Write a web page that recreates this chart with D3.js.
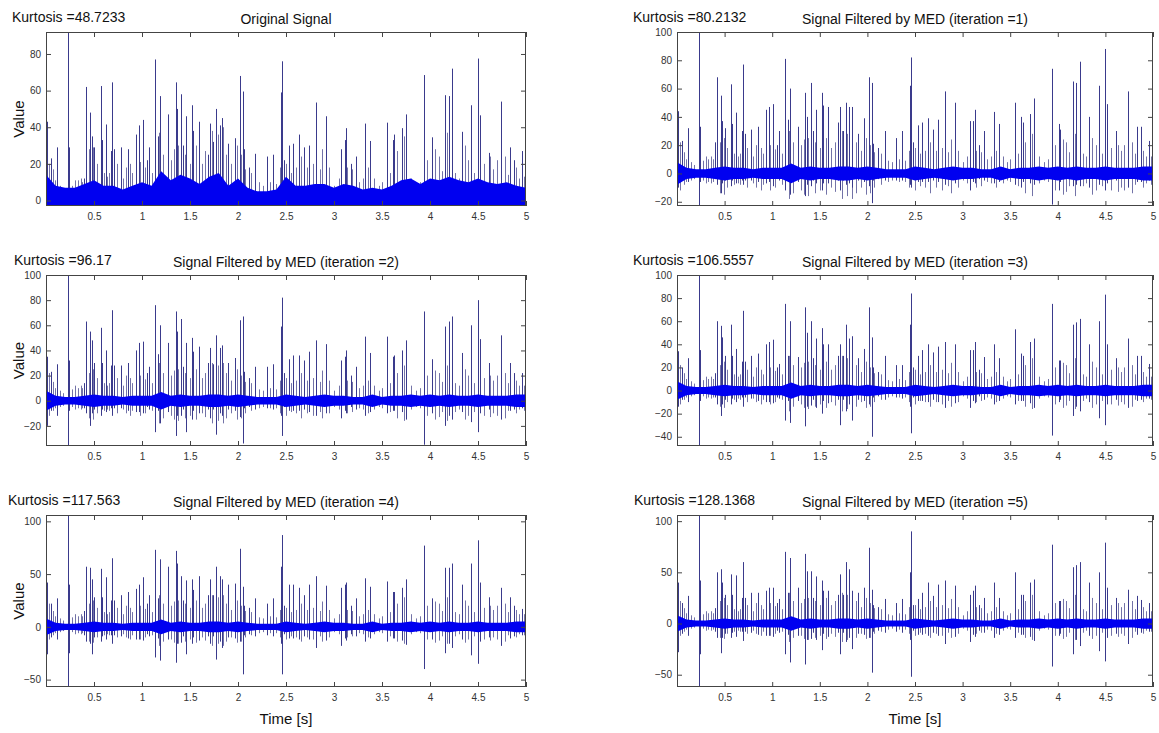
<!DOCTYPE html>
<html lang="en">
<head>
<meta charset="UTF-8">
<script src="https://cdn.jsdelivr.net/npm/d3@7"></script>
<title>MED filtering - kurtosis</title>
<style>
    body { margin: 0; background: #fff; }
    svg { display: block; font-family: "Liberation Sans", Arial, Helvetica, sans-serif; }
    .tick text { font-size: 10px; fill: #333; }
    .tick line { stroke: #444; }
    .label { font-size: 15px; fill: #111; }
    .title { font-size: 14px; fill: #111; }
</style>
</head>
<body>
<script>

    /*-------------------------------------------------------*/
    /*------------------------ data -------------------------*/
    /*-------------------------------------------------------*/
    // impulse times [s], shared by every panel
    const spikeTimes = [
        0.01, 0.05, 0.115, 0.23, 0.24, 0.40, 0.42, 0.463, 0.474, 0.50,
        0.57, 0.58, 0.624, 0.68, 0.692, 0.71, 0.778, 0.85, 0.94, 0.968,
        1.01, 1.055, 1.076, 1.137, 1.165, 1.187, 1.27, 1.349, 1.363, 1.41,
        1.424, 1.463, 1.524, 1.53, 1.589, 1.69, 1.71, 1.74, 1.775, 1.81,
        1.836, 1.897, 1.969, 2.019, 2.048, 2.063, 2.11, 2.18, 2.30, 2.364,
        2.45, 2.457, 2.48, 2.529, 2.572, 2.64, 2.69, 2.744, 2.812, 2.92,
        3.074, 3.11, 3.128, 3.175, 3.23, 3.325, 3.38, 3.551, 3.612, 3.63,
        3.709, 3.755, 3.942, 4.017, 4.024, 4.157, 4.193, 4.229, 4.329, 4.43,
        4.50, 4.52, 4.61, 4.74, 4.83, 4.87, 4.96
    ];

    // peak values of each impulse
    const peaksOriginal = [
        43, 23, 29, 92, 29, 12, 62, 48, 35, 29,
        62.5, 33, 41.5, 27, 64.5, 28, 29, 28, 36, 41,
        44, 22, 29, 77, 35, 57, 47, 64.5, 50, 58,
        30, 46, 52, 38, 43, 25, 42, 32, 50, 41,
        45, 31, 34, 68, 59.5, 28, 18, 25.5, 24, 25,
        59, 76, 22, 30, 31, 36, 29, 30, 53.5, 46,
        28, 33, 39.5, 20, 24, 42, 32.5, 42.5, 33, 36,
        39.5, 47, 68.5, 26, 34.5, 57.5, 57, 72, 37.5, 52,
        77.5, 46.5, 26, 54, 29, 22, 27
    ];
    const peaksIter1 = [
        44, 23, 32, 100, 33, 22, 68, 55, 37, 32,
        63, 35, 43, 30, 77, 28, 31, 33, 45, 47,
        49, 20, 30, 81, 38, 60, 33, 57, 40, 64,
        30, 45, 57, 48, 47, 36, 47, 30, 50, 47,
        47, 28, 39, 68, 64, 21, 18, 30, 25, 30,
        62, 82, 22, 34, 36, 39, 31, 38, 58, 50,
        37, 37, 45, 20, 30, 43.5, 35, 50, 40, 36,
        42, 53, 74, 35, 31, 65, 64, 79, 40, 62,
        88, 49, 30, 58, 33, 33, 23
    ];
    const peaksIter2 = [
        35, 23, 29, 100, 32, 14, 63, 55, 48, 30,
        58, 30, 40, 28, 72, 28, 28, 30, 40, 46,
        47, 22, 27, 76, 37, 60, 46, 71, 55, 65,
        27, 46, 50, 39, 43, 30, 42, 29, 52, 42,
        44, 30, 34, 64, 67, 23, 18, 27, 27, 29,
        59, 82, 22, 33, 36, 36, 32, 39, 48, 45,
        32, 35, 40, 20, 27, 51, 38, 51, 35, 36,
        40, 48, 71, 33, 31, 59, 63, 67, 38, 60,
        80, 49, 30, 52, 30, 22, 22
    ];
    const peaksIter3 = [
        34, 20, 28, 100, 35, 15, 60, 56, 46, 30,
        57, 30, 36, 25, 69, 25, 30, 32, 40, 42,
        44, 20, 23, 75, 30, 60, 29, 72, 50, 60,
        28, 45, 54, 40, 40, 30, 40, 30, 57, 45,
        47, 28, 36, 72, 46, 20, 16, 30, 22, 22,
        57, 84, 20, 30, 35, 40, 33, 38, 42, 40,
        35, 35, 42, 18, 29, 40, 28, 53, 32, 30,
        42, 45, 75, 26, 26, 57, 59, 62, 40, 60,
        83, 40, 28, 45, 30, 30, 23
    ];
    const peaksIter4 = [
        42, 22, 27, 106, 40, 15, 57, 56, 45, 28,
        55, 28, 47, 25, 65, 25, 30, 33, 36, 40,
        47, 22, 30, 73, 27, 64, 57, 72, 60, 48,
        25, 44, 45, 35, 48, 30, 45, 30, 57, 48,
        45, 40, 41, 74, 38, 20, 18, 27, 22, 27,
        57, 87, 20, 40, 40, 37, 30, 40, 48, 39,
        37, 40, 42, 20, 27, 46, 38, 43, 33, 33,
        37, 45, 77, 27, 25, 56, 56, 60, 40, 60,
        82, 42, 28, 37, 28, 20, 17
    ];
    const peaksIter5 = [
        40, 20, 27, 106, 42, 15, 50, 53, 40, 28,
        48, 28, 47, 25, 60, 25, 30, 30, 32, 35,
        35, 20, 24, 70, 30, 64, 35, 68, 51, 51,
        25, 46, 42, 32, 32, 28, 48, 28, 60, 53,
        32, 30, 35, 74, 33, 18, 16, 24, 20, 24,
        50, 90, 18, 24, 30, 40, 27, 38, 42, 37,
        28, 32, 37, 18, 25, 40, 25, 50, 28, 28,
        40, 43, 77, 22, 22, 55, 57, 60, 40, 50,
        79, 35, 25, 33, 27, 23, 20
    ];

    // negative swing of each impulse (filtered signals only)
    const troughsIter1 = [
        -10, -5, -6, -23, -6, -4, -8, -14, -7, -5,
        -9, -5, -7, -5, -8, -5, -5, -6, -7, -6,
        -9, -4, -5, -12, -6, -15, -6, -16, -8, -9,
        -5, -7, -12, -7, -7, -5, -12, -5, -8, -7,
        -10, -5, -6, -9, -21, -5, -4, -5, -5, -5,
        -8, -10, -4, -6, -6, -6, -5, -6, -8, -7,
        -12, -6, -7, -4, -5, -7, -6, -8, -10, -6,
        -7, -8, -22, -12, -6, -9, -8, -9, -10, -8,
        -12, -7, -5, -10, -6, -6, -5
    ];
    const troughsIter2 = [
        -20, -8, -12, -36, -8, -6, -10, -20, -10, -7,
        -12, -7, -9, -6, -12, -6, -6, -8, -9, -9,
        -10, -5, -7, -25, -8, -18, -9, -28, -12, -12,
        -7, -25, -15, -8, -10, -7, -14, -7, -27, -10,
        -12, -7, -8, -13, -34, -6, -5, -7, -6, -7,
        -12, -28, -5, -8, -8, -8, -7, -9, -12, -10,
        -14, -8, -10, -5, -7, -12, -9, -10, -8, -8,
        -9, -15, -35, -10, -8, -20, -12, -15, -9, -17,
        -25, -10, -7, -15, -8, -7, -6
    ];
    const troughsIter3 = [
        -14, -8, -10, -48, -9, -6, -12, -22, -12, -8,
        -12, -7, -10, -6, -14, -6, -7, -9, -10, -10,
        -11, -6, -7, -26, -9, -28, -9, -31, -14, -13,
        -8, -15, -20, -9, -11, -8, -30, -8, -18, -12,
        -26, -8, -9, -12, -40, -6, -5, -8, -6, -7,
        -14, -37, -6, -9, -9, -10, -8, -10, -15, -11,
        -15, -9, -11, -5, -8, -12, -9, -12, -9, -9,
        -11, -15, -39, -10, -8, -22, -14, -18, -10, -24,
        -30, -12, -8, -15, -9, -8, -7
    ];
    const troughsIter4 = [
        -26, -10, -12, -57, -25, -8, -14, -16, -26, -10,
        -14, -9, -12, -8, -16, -8, -9, -11, -12, -12,
        -13, -7, -9, -29, -11, -32, -12, -34, -16, -15,
        -9, -26, -16, -10, -13, -9, -16, -9, -31, -14,
        -20, -10, -11, -14, -45, -8, -7, -9, -8, -9,
        -16, -45, -7, -11, -11, -12, -9, -12, -20, -13,
        -18, -11, -13, -7, -9, -14, -11, -14, -11, -11,
        -13, -17, -40, -12, -10, -25, -16, -20, -12, -27,
        -35, -14, -10, -18, -11, -9, -8
    ];
    const troughsIter5 = [
        -28, -10, -12, -62, -30, -8, -14, -29, -14, -10,
        -14, -9, -13, -8, -17, -8, -9, -11, -12, -12,
        -13, -7, -9, -30, -11, -38, -12, -40, -16, -15,
        -9, -16, -26, -10, -13, -9, -30, -9, -18, -14,
        -25, -10, -11, -14, -48, -8, -7, -9, -8, -9,
        -16, -52, -7, -11, -11, -12, -9, -12, -20, -13,
        -18, -11, -13, -7, -9, -14, -11, -14, -11, -11,
        -13, -17, -42, -12, -10, -30, -16, -22, -12, -27,
        -37, -14, -10, -20, -11, -9, -8
    ];

    // smaller bursts between the impulses
    const minorTimes = [
        0.03, 0.07, 0.09, 0.15, 0.18, 0.27, 0.30, 0.33, 0.36, 0.38,
        0.45, 0.49, 0.53, 0.60, 0.64, 0.66, 0.74, 0.80, 0.83, 0.88,
        0.90, 0.98, 1.03, 1.10, 1.18, 1.22, 1.30, 1.33, 1.38, 1.45,
        1.50, 1.56, 1.62, 1.66, 1.73, 1.79, 1.84, 1.88, 1.93, 1.99,
        2.03, 2.07, 2.14, 2.22, 2.26, 2.33, 2.40, 2.44, 2.50, 2.55,
        2.60, 2.66, 2.72, 2.78, 2.85, 2.88, 2.95, 3.00, 3.05, 3.14,
        3.19, 3.26, 3.30, 3.35, 3.42, 3.47, 3.50, 3.58, 3.66, 3.73,
        3.80, 3.85, 3.90, 3.97, 4.05, 4.09, 4.12, 4.18, 4.26, 4.30,
        4.36, 4.40, 4.46, 4.56, 4.63, 4.66, 4.70, 4.78, 4.81, 4.90,
        4.93, 4.98
    ];
    const minorOriginal = [
        20, 17, 11, 8, 6, 8, 11, 11, 12, 10,
        28, 29, 20, 15, 13, 15, 20, 12, 18, 20,
        15, 21, 18, 15, 37, 25, 22, 28, 30, 25,
        20, 30, 20, 27, 38, 36, 40, 25, 20, 30,
        25, 17, 15, 10, 8, 10, 9, 18, 20, 15,
        18, 24, 18, 20, 17, 28, 18, 8, 12, 18,
        17, 10, 12, 18, 12, 8, 10, 15, 27, 35,
        12, 8, 10, 22, 28, 24, 16, 37, 15, 12,
        30, 22, 15, 20, 24, 17, 22, 24, 14, 18,
        12, 13
    ];
    const minorFilteredHi = [
        22, 15, 10, 8, 6, 9, 12, 10, 12, 10,
        22, 25, 18, 14, 12, 14, 18, 12, 20, 18,
        14, 20, 17, 14, 30, 22, 20, 24, 25, 22,
        18, 25, 18, 22, 30, 28, 30, 22, 16, 25,
        20, 15, 14, 9, 8, 10, 9, 16, 18, 14,
        16, 22, 16, 18, 15, 24, 16, 8, 12, 16,
        15, 10, 12, 16, 12, 8, 10, 14, 22, 28,
        12, 8, 10, 20, 24, 22, 15, 28, 14, 12,
        25, 20, 14, 18, 20, 16, 20, 22, 14, 16,
        12, 12
    ];
    const minorFilteredLo = [
        -12, -8, -6, -5, -4, -5, -7, -6, -7, -6,
        -14, -15, -10, -8, -7, -8, -10, -7, -10, -12,
        -8, -12, -10, -8, -18, -14, -12, -15, -16, -14,
        -12, -15, -10, -13, -18, -16, -18, -14, -10, -15,
        -14, -10, -8, -6, -5, -6, -6, -10, -12, -9,
        -10, -14, -10, -12, -9, -14, -10, -5, -7, -10,
        -9, -6, -7, -10, -7, -5, -6, -9, -14, -16,
        -7, -5, -6, -12, -15, -13, -9, -16, -9, -7,
        -15, -12, -9, -12, -13, -10, -12, -14, -8, -10,
        -7, -8
    ];

    // envelope of the dense background signal, every 0.1 s
    const bandTimes = [
        0.0, 0.1, 0.2, 0.3, 0.4, 0.5, 0.6, 0.7, 0.8, 0.9,
        1.0, 1.1, 1.2, 1.3, 1.4, 1.5, 1.6, 1.7, 1.8, 1.9,
        2.0, 2.1, 2.2, 2.3, 2.4, 2.5, 2.6, 2.7, 2.8, 2.9,
        3.0, 3.1, 3.2, 3.3, 3.4, 3.5, 3.6, 3.7, 3.8, 3.9,
        4.0, 4.1, 4.2, 4.3, 4.4, 4.5, 4.6, 4.7, 4.8, 4.9, 5.0
    ];
    // original signal: top of the dense part
    const bandOriginal = [
        14, 8, 7, 7, 9, 11, 8, 8, 6, 8,
        10, 8, 16, 11, 14, 12, 9, 13, 15, 8,
        12, 7, 5, 5, 6, 13, 8, 8, 9, 9,
        7, 9, 8, 6, 7, 6, 8, 11, 12, 9,
        12, 11, 13, 11, 10, 12, 10, 9, 10, 8, 7
    ];
    // filtered signals: half width of the dense part around zero
    const bandFiltered = [
        8, 4, 3, 3, 4, 5, 4, 4, 3, 4,
        4, 4, 7, 4, 5, 4, 4, 5, 5, 4,
        5, 4, 3, 3, 3, 5, 4, 3, 4, 5,
        4, 4, 3, 3, 5, 3, 4, 4, 5, 4,
        5, 4, 5, 4, 4, 5, 4, 4, 4, 5, 5
    ];

    const kurtosis = ["48.7233", "80.2132", "96.17", "106.5557", "117.563", "128.1368"];
    const titles = [
        "Original Signal",
        "Signal Filtered by MED (iteration =1)",
        "Signal Filtered by MED (iteration =2)",
        "Signal Filtered by MED (iteration =3)",
        "Signal Filtered by MED (iteration =4)",
        "Signal Filtered by MED (iteration =5)"
    ];
    const yLimits = [[-3, 92], [-23, 100], [-36, 100], [-48, 100], [-57, 106], [-62, 106]];
    const yTicks = [
        [0, 20, 40, 60, 80],
        [-20, 0, 20, 40, 60, 80, 100],
        [-20, 0, 20, 40, 60, 80, 100],
        [-40, -20, 0, 20, 40, 60, 80, 100],
        [-50, 0, 50, 100],
        [-50, 0, 50, 100]
    ];
    const xTicks = [0.5, 1, 1.5, 2, 2.5, 3, 3.5, 4, 4.5, 5];

    /*-------------------------------------------------------*/
    /*------------------------ layout -----------------------*/
    /*-------------------------------------------------------*/
    const width = 1159, height = 733;
    const cols = [{x0: 46, x1: 526}, {x0: 677, x1: 1153}];
    const rows = [{y0: 32, y1: 206}, {y0: 275, y1: 446}, {y0: 515, y1: 687}];
    const kurtX = [12, 633, 14, 633, 8, 634];

    const peaks = [peaksOriginal, peaksIter1, peaksIter2, peaksIter3, peaksIter4, peaksIter5];
    const troughs = [null, troughsIter1, troughsIter2, troughsIter3, troughsIter4, troughsIter5];

    const svg = d3.select("body").append("svg")
        .attr("width", width)
        .attr("height", height);

    peaks.forEach((pk, i) => {
        const col = cols[i % 2], row = rows[Math.floor(i / 2)];

        const x = d3.scaleLinear().domain([0, 5]).range([col.x0, col.x1]);
        const y = d3.scaleLinear().domain(yLimits[i]).range([row.y1, row.y0]);
        const px = t => Math.round(x(t)) + 0.5;

        const g = svg.append("g");

        // clip to the axes box
        g.append("clipPath").attr("id", "clip" + i)
            .append("rect")
            .attr("x", col.x0).attr("y", row.y0)
            .attr("width", col.x1 - col.x0).attr("height", row.y1 - row.y0);

        const plot = g.append("g").attr("clip-path", `url(#clip${i})`);

        // small bursts (lighter)
        const minor = minorTimes.map((t, k) => i === 0
            ? {t: t, hi: minorOriginal[k], lo: yLimits[0][0]}
            : {t: t, hi: minorFilteredHi[k], lo: minorFilteredLo[k]});

        plot.selectAll("line.minor")
            .data(minor)
            .enter()
            .append("line")
            .attr("class", "minor")
            .attr("x1", d => px(d.t))
            .attr("x2", d => px(d.t))
            .attr("y1", d => y(d.lo))
            .attr("y2", d => y(d.hi))
            .attr("stroke", "#7373a8")
            .attr("stroke-width", 1);

        // impulses
        const spikes = spikeTimes.map((t, k) => ({
            t: t,
            hi: pk[k],
            lo: troughs[i] ? troughs[i][k] : yLimits[i][0]
        }));

        plot.selectAll("line.spike")
            .data(spikes)
            .enter()
            .append("line")
            .attr("class", "spike")
            .attr("x1", d => px(d.t))
            .attr("x2", d => px(d.t))
            .attr("y1", d => y(d.lo))
            .attr("y2", d => y(d.hi))
            .attr("stroke", "#3a3a8c")
            .attr("stroke-width", 1);

        // dense background
        const band = bandTimes.map((t, k) => i === 0
            ? {t: t, hi: bandOriginal[k], lo: yLimits[0][0]}
            : {t: t, hi: bandFiltered[k], lo: -bandFiltered[k]});

        plot.append("path")
            .datum(band)
            .attr("fill", "#0000f0")
            .attr("d", d3.area()
                .x(d => x(d.t))
                .y0(d => y(d.lo))
                .y1(d => y(d.hi)));

        // ticks on all four sides
        const addAxis = (axis, tx, ty) => {
            const a = g.append("g")
                .attr("transform", `translate(${tx},${ty})`)
                .call(axis);
            a.select(".domain").remove();
            return a;
        };
        addAxis(d3.axisBottom(x).tickValues(xTicks).tickSizeInner(-5).tickSizeOuter(0)
            .tickPadding(7).tickFormat(d3.format("")), 0, row.y1);
        addAxis(d3.axisTop(x).tickValues(xTicks).tickSizeInner(-5).tickSizeOuter(0)
            .tickFormat(""), 0, row.y0);
        addAxis(d3.axisLeft(y).tickValues(yTicks[i]).tickSizeInner(-5).tickSizeOuter(0)
            .tickPadding(5).tickFormat(d3.format("")), col.x0, 0);
        addAxis(d3.axisRight(y).tickValues(yTicks[i]).tickSizeInner(-5).tickSizeOuter(0)
            .tickFormat(""), col.x1, 0);

        g.append("rect")
            .attr("x", col.x0 + 0.5).attr("y", row.y0 + 0.5)
            .attr("width", col.x1 - col.x0 - 1).attr("height", row.y1 - row.y0 - 1)
            .attr("fill", "none")
            .attr("stroke", "#444");

        // titles
        g.append("text")
            .attr("class", "title")
            .attr("x", kurtX[i])
            .attr("y", row.y0 - 10)
            .text("Kurtosis =" + kurtosis[i]);

        g.append("text")
            .attr("class", "title")
            .attr("x", (col.x0 + col.x1) / 2)
            .attr("y", row.y0 - 8)
            .attr("text-anchor", "middle")
            .text(titles[i]);

        if (i % 2 === 0) {
            g.append("text")
                .attr("class", "label")
                .attr("transform", `translate(24,${(row.y0 + row.y1) / 2}) rotate(-90)`)
                .attr("text-anchor", "middle")
                .text("Value");
        }
        if (i >= 4) {
            g.append("text")
                .attr("class", "label")
                .attr("x", (col.x0 + col.x1) / 2)
                .attr("y", 724)
                .attr("text-anchor", "middle")
                .text("Time [s]");
        }
    });
</script>
</body>
</html>
